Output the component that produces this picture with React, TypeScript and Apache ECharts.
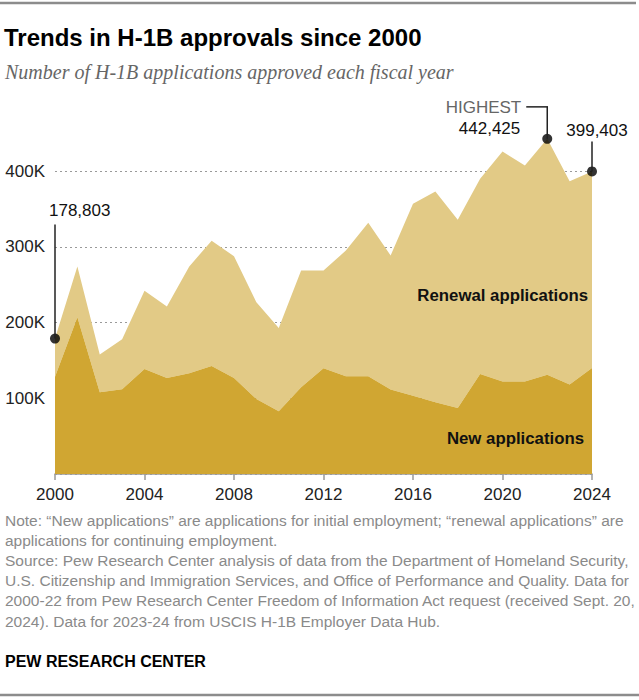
import React, { useEffect, useRef } from "react";
import * as echarts from "echarts";

const years = ["2000", "2001", "2002", "2003", "2004", "2005", "2006", "2007", "2008", "2009", "2010", "2011", "2012", "2013", "2014", "2015", "2016", "2017", "2018", "2019", "2020", "2021", "2022", "2023", "2024"];
const newApps = [128500, 207000, 107800, 112000, 138700, 126800, 133000, 142600, 126800, 99000, 82700, 114400, 139500, 129000, 129000, 111400, 103400, 94600, 87200, 132000, 122000, 122000, 131000, 118000, 140000];
const renewalApps = [50303, 67000, 49800, 66000, 103300, 94200, 141000, 165400, 160700, 127700, 110100, 154200, 129100, 166000, 202600, 177000, 253300, 278400, 248300, 257700, 303800, 285300, 311425, 268500, 259403];
const highlightYears = ["2000", "2022", "2024"];
const highlightTotals = [178803, 442425, 399403];
const yTicks = [0, 100000, 200000, 300000, 400000];

const TITLE = "Trends in H-1B approvals since 2000";
const SUBTITLE = "Number of H-1B applications approved each fiscal year";
const NOTE_LINES = [
  "Note: \u201cNew applications\u201d are applications for initial employment; \u201crenewal applications\u201d are",
  "applications for continuing employment.",
  "Source: Pew Research Center analysis of data from the Department of Homeland Security,",
  "U.S. Citizenship and Immigration Services, and Office of Performance and Quality. Data for",
  "2000-22 from Pew Research Center Freedom of Information Act request (received Sept. 20,",
  "2024). Data for 2023-24 from USCIS H-1B Employer Data Hub.",
];

const SANS = "'Liberation Sans', Arial, sans-serif";
const NARROW = "'Liberation Sans Narrow', 'Arial Narrow', 'Liberation Sans', sans-serif";
const SERIF = "'Liberation Serif', 'DejaVu Serif', serif";
const DARK = "#D0A632";
const LIGHT = "#E2CA86";

function fmt(n: number) {
  return n.toLocaleString("en-US");
}

export default function App() {
  const ref = useRef<HTMLDivElement>(null);
  useEffect(() => {
    document.body.style.margin = "0";
    const chart = echarts.init(ref.current!, null, { renderer: "svg" });
    const option: any = {
      animation: false,
      backgroundColor: "#ffffff",
      grid: { left: 55, right: 47, top: 171, bottom: 226, containLabel: false, outerBoundsMode: "none" },
      xAxis: {
        type: "category",
        data: years,
        boundaryGap: false,
        axisLine: { show: true, lineStyle: { color: "#9a9a9a", width: 1.5 } },
        axisTick: { show: true, length: 6, interval: 3, lineStyle: { color: "#9a9a9a", width: 1.5 } },
        splitLine: { show: false },
        axisLabel: {
          color: "#222",
          fontFamily: SANS,
          fontSize: 17,
          margin: 12,
          interval: 3,
        },
      },
      yAxis: {
        type: "value",
        min: yTicks[0],
        max: yTicks[yTicks.length - 1],
        interval: 100000,
        axisLine: { show: false },
        axisTick: { show: false },
        splitLine: { show: true, lineStyle: { color: "#9a9a9a", type: [2, 3], width: 1 } },
        axisLabel: {
          color: "#222",
          fontFamily: SANS,
          fontSize: 17,
          margin: 10,
          formatter: (v: number) => (v === 0 ? "" : v / 1000 + "K"),
        },
      },
      series: [
        {
          name: "New applications",
          type: "line",
          stack: "total",
          clip: false,
          symbol: "none",
          lineStyle: { width: 0 },
          areaStyle: { color: DARK, opacity: 1 },
          data: newApps,
          z: 3,
        },
        {
          name: "Renewal applications",
          type: "line",
          stack: "total",
          clip: false,
          symbol: "none",
          lineStyle: { width: 0 },
          areaStyle: { color: LIGHT, opacity: 1 },
          data: renewalApps,
          z: 2,
        },
        {
          name: "highlights",
          type: "scatter",
          clip: false,
          symbolSize: 10,
          itemStyle: { color: "#000" },
          data: highlightYears.map((y, i) => [y, highlightTotals[i]]),
          z: 5,
        },
      ],
    };
    chart.setOption(option);

    const p0 = chart.convertToPixel({ gridIndex: 0 }, [highlightYears[0], highlightTotals[0]]) as number[];
    const p1 = chart.convertToPixel({ gridIndex: 0 }, [highlightYears[1], highlightTotals[1]]) as number[];
    const p2 = chart.convertToPixel({ gridIndex: 0 }, [highlightYears[2], highlightTotals[2]]) as number[];

    const lineStyle = { stroke: "#222", lineWidth: 1.5 };
    const valStyle = { fill: "#111", font: `17px ${SANS}`, textVerticalAlign: "middle" };

    const graphic: any[] = [
      { type: "line", shape: { x1: 0, y1: 3, x2: 636, y2: 3 }, style: { stroke: "#8c8c8c", lineWidth: 2.5 } },
      { type: "line", shape: { x1: 0, y1: 695, x2: 639, y2: 695 }, style: { stroke: "#8c8c8c", lineWidth: 2.5 } },
      {
        type: "text",
        x: 4,
        y: 37,
        style: { text: TITLE, fill: "#000", font: `bold 24px ${NARROW}`, textVerticalAlign: "middle" },
      },
      {
        type: "text",
        x: 5,
        y: 72,
        style: { text: SUBTITLE, fill: "#666", font: `italic 20px ${SERIF}`, textVerticalAlign: "middle" },
      },
      ...NOTE_LINES.map((t, i) => ({
        type: "text",
        x: 5,
        y: 520 + i * 20.2,
        style: { text: t, fill: "#8a8a8a", font: `15.5px ${NARROW}`, textVerticalAlign: "middle" },
      })),
      {
        type: "text",
        x: 5,
        y: 661,
        style: { text: "PEW RESEARCH CENTER", fill: "#000", font: `bold 16px ${NARROW}`, textVerticalAlign: "middle" },
      },
      // 2000 annotation
      { type: "line", z: 10, shape: { x1: p0[0], y1: p0[1], x2: p0[0], y2: p0[1] - 114 }, style: lineStyle },
      {
        type: "text",
        z: 10,
        x: p0[0] - 6,
        y: p0[1] - 128,
        style: { ...valStyle, text: fmt(highlightTotals[0]), textAlign: "left" },
      },
      // 2022 annotation
      { type: "line", z: 10, shape: { x1: p1[0], y1: p1[1], x2: p1[0], y2: p1[1] - 32 }, style: lineStyle },
      { type: "line", z: 10, shape: { x1: p1[0] + 0.75, y1: p1[1] - 32, x2: p1[0] - 21, y2: p1[1] - 32 }, style: lineStyle },
      {
        type: "text",
        z: 10,
        x: p1[0] - 26,
        y: p1[1] - 31,
        style: { ...valStyle, fill: "#666", text: "HIGHEST", textAlign: "right" },
      },
      {
        type: "text",
        z: 10,
        x: p1[0] - 27,
        y: p1[1] - 10,
        style: { ...valStyle, text: fmt(highlightTotals[1]), textAlign: "right" },
      },
      // 2024 annotation
      { type: "line", z: 10, shape: { x1: p2[0], y1: p2[1], x2: p2[0], y2: p2[1] - 30 }, style: lineStyle },
      {
        type: "text",
        z: 10,
        x: p2[0] + 5,
        y: p2[1] - 41,
        style: { ...valStyle, text: fmt(highlightTotals[2]), textAlign: "center" },
      },
      // area labels
      {
        type: "text",
        z: 10,
        x: 588,
        y: 295,
        style: { text: "Renewal applications", fill: "#111", font: `bold 16.8px ${SANS}`, textAlign: "right", textVerticalAlign: "middle" },
      },
      {
        type: "text",
        z: 10,
        x: 584,
        y: 438,
        style: { text: "New applications", fill: "#111", font: `bold 16.8px ${SANS}`, textAlign: "right", textVerticalAlign: "middle" },
      },
    ];
    chart.setOption({ graphic });
    return () => chart.dispose();
  }, []);
  return <div ref={ref} style={{ position: "absolute", left: 0, top: 0, width: 639, height: 700 }} />;
}
